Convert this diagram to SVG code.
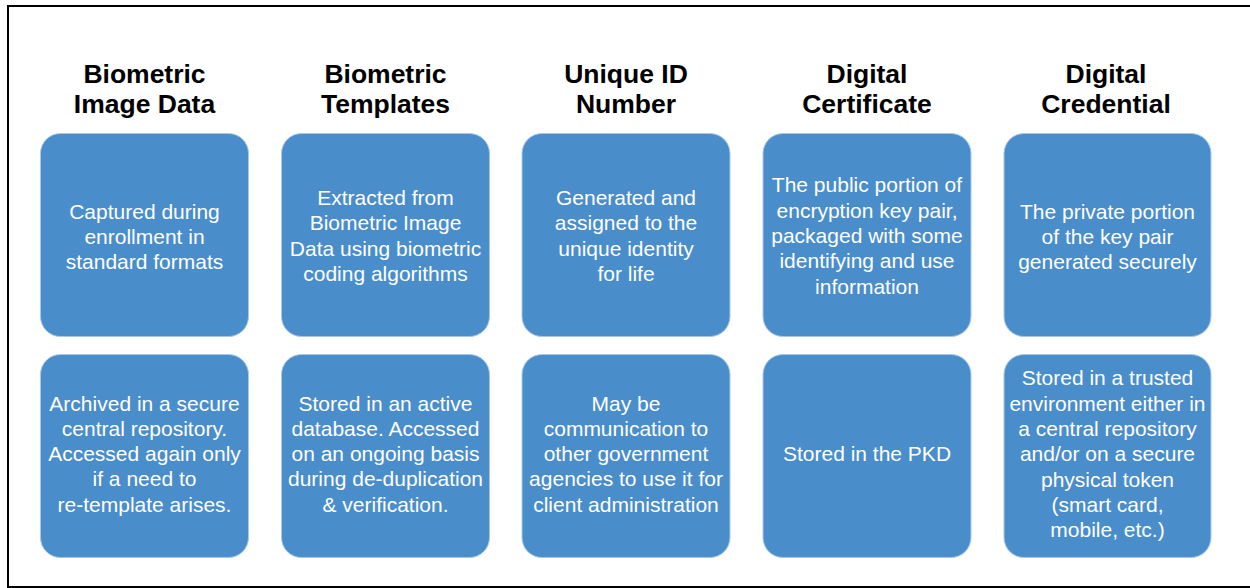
<svg xmlns="http://www.w3.org/2000/svg" width="1250" height="588" viewBox="0 0 1250 588">
<style>
.t{font-family:"Liberation Sans",Arial,Helvetica,sans-serif;font-weight:bold;font-size:26.5px;fill:#000;text-anchor:middle}
.b{font-family:"Liberation Sans",Arial,Helvetica,sans-serif;font-size:21px;fill:#fff;text-anchor:middle}
.box{fill:#4a8dcb;stroke:#a9c8e6;stroke-width:1}
</style>
<rect x="0" y="0" width="1250" height="588" fill="#fff"/>
<rect x="8" y="6" width="1260" height="581" fill="none" stroke="#000" stroke-width="2"/>
<g id="col1">
<text class="t" x="144.5" y="83">Biometric</text>
<text class="t" x="144.5" y="113">Image Data</text>
<rect class="box" x="40.5" y="133.5" width="208" height="203" rx="20"/>
<text class="b" x="144.5" y="218.5">Captured during</text>
<text class="b" x="144.5" y="243.5">enrollment in</text>
<text class="b" x="144.5" y="268.5">standard formats</text>
<rect class="box" x="40.5" y="354.5" width="208" height="203" rx="20"/>
<text class="b" x="144.5" y="411">Archived in a secure</text>
<text class="b" x="144.5" y="436">central repository.</text>
<text class="b" x="144.5" y="461">Accessed again only</text>
<text class="b" x="144.5" y="486">if a need to</text>
<text class="b" x="144.5" y="512">re-template arises.</text>
</g>
<g id="col2">
<text class="t" x="385.5" y="83">Biometric</text>
<text class="t" x="385.5" y="113">Templates</text>
<rect class="box" x="281.5" y="133.5" width="208" height="203" rx="20"/>
<text class="b" x="385.5" y="205">Extracted from</text>
<text class="b" x="385.5" y="230">Biometric Image</text>
<text class="b" x="385.5" y="256">Data using biometric</text>
<text class="b" x="385.5" y="281">coding algorithms</text>
<rect class="box" x="281.5" y="354.5" width="208" height="203" rx="20"/>
<text class="b" x="385.5" y="411">Stored in an active</text>
<text class="b" x="385.5" y="436">database. Accessed</text>
<text class="b" x="385.5" y="461">on an ongoing basis</text>
<text class="b" x="385.5" y="486">during de-duplication</text>
<text class="b" x="385.5" y="512">&amp; verification.</text>
</g>
<g id="col3">
<text class="t" x="626" y="83">Unique ID</text>
<text class="t" x="626" y="113">Number</text>
<rect class="box" x="522" y="133.5" width="208" height="203" rx="20"/>
<text class="b" x="626" y="205">Generated and</text>
<text class="b" x="626" y="230">assigned to the</text>
<text class="b" x="626" y="256">unique identity</text>
<text class="b" x="626" y="281">for life</text>
<rect class="box" x="522" y="354.5" width="208" height="203" rx="20"/>
<text class="b" x="626" y="411">May be</text>
<text class="b" x="626" y="436">communication to</text>
<text class="b" x="626" y="461">other government</text>
<text class="b" x="626" y="486">agencies to use it for</text>
<text class="b" x="626" y="512">client administration</text>
</g>
<g id="col4">
<text class="t" x="867" y="83">Digital</text>
<text class="t" x="867" y="113">Certificate</text>
<rect class="box" x="763" y="133.5" width="208" height="203" rx="20"/>
<text class="b" x="867" y="192">The public portion of</text>
<text class="b" x="867" y="218">encryption key pair,</text>
<text class="b" x="867" y="243">packaged with some</text>
<text class="b" x="867" y="268">identifying and use</text>
<text class="b" x="867" y="294">information</text>
<rect class="box" x="763" y="354.5" width="208" height="203" rx="20"/>
<text class="b" x="867" y="461">Stored in the PKD</text>
</g>
<g id="col5">
<text class="t" x="1106" y="83">Digital</text>
<text class="t" x="1106" y="113">Credential</text>
<rect class="box" x="1004" y="133.5" width="207" height="203" rx="20"/>
<text class="b" x="1107.5" y="218.5">The private portion</text>
<text class="b" x="1107.5" y="243.5">of the key pair</text>
<text class="b" x="1107.5" y="268.5">generated securely</text>
<rect class="box" x="1004" y="354.5" width="207" height="203" rx="20"/>
<text class="b" x="1107.5" y="385">Stored in a trusted</text>
<text class="b" x="1107.5" y="411">environment either in</text>
<text class="b" x="1107.5" y="436">a central repository</text>
<text class="b" x="1107.5" y="461">and/or on a secure</text>
<text class="b" x="1107.5" y="487">physical token</text>
<text class="b" x="1107.5" y="512">(smart card,</text>
<text class="b" x="1107.5" y="537">mobile, etc.)</text>
</g>
<g id="connectors"></g>
</svg>
